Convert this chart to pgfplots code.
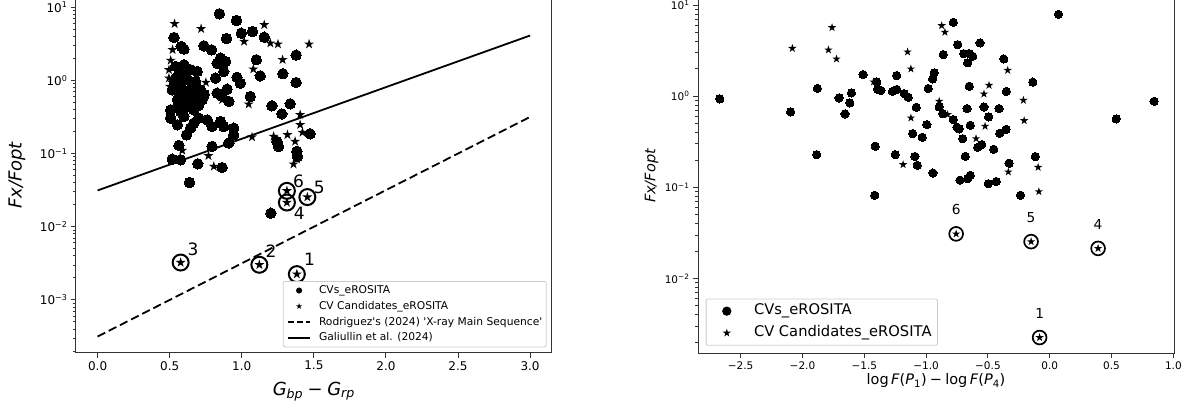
\documentclass[border=0pt]{standalone}
\usepackage{fontspec}
\setmainfont{DejaVu Sans}
\usepackage{pgfplots}
\pgfplotsset{compat=1.18}
\pgfdeclareplotmark{fstar}{%
  \pgfpathmoveto{\pgfpointpolar{90}{\pgfplotmarksize}}%
  \pgfpathlineto{\pgfpointpolar{126}{0.382\pgfplotmarksize}}%
  \pgfpathlineto{\pgfpointpolar{162}{\pgfplotmarksize}}%
  \pgfpathlineto{\pgfpointpolar{198}{0.382\pgfplotmarksize}}%
  \pgfpathlineto{\pgfpointpolar{234}{\pgfplotmarksize}}%
  \pgfpathlineto{\pgfpointpolar{270}{0.382\pgfplotmarksize}}%
  \pgfpathlineto{\pgfpointpolar{306}{\pgfplotmarksize}}%
  \pgfpathlineto{\pgfpointpolar{342}{0.382\pgfplotmarksize}}%
  \pgfpathlineto{\pgfpointpolar{18}{\pgfplotmarksize}}%
  \pgfpathlineto{\pgfpointpolar{54}{0.382\pgfplotmarksize}}%
  \pgfpathclose
  \pgfusepathqfill
}
\pgfplotsset{
  mplstyle/.style={
    scale only axis,
    axis line style={black!80, line width=1pt},
    every tick/.style={black!80, line width=0.9pt},
    major tick length=5pt, minor tick length=3pt,
    tick align=outside, tick pos=left,
    legend cell align=left,
  }
}
\begin{document}
\begin{tikzpicture}
%================ LEFT PANEL =================
\begin{axis}[mplstyle, ymode=log,
  at={(76pt,54.3pt)}, anchor=south west,
  width=475.7pt, height=354.9pt,
  xmin=-0.15, xmax=3.15, ymin=1.9e-4, ymax=13.4,
  xtick={0,0.5,1,1.5,2,2.5,3}, xticklabels={0.0,0.5,1.0,1.5,2.0,2.5,3.0},
  ytick={1e-3,1e-2,1e-1,1,10},
  yticklabels={10\textsuperscript{−3},10\textsuperscript{−2},10\textsuperscript{−1},10\textsuperscript{0},10\textsuperscript{1}},
  minor ytick={2e-4,3e-4,4e-4,5e-4,6e-4,7e-4,8e-4,9e-4,2e-3,3e-3,4e-3,5e-3,6e-3,7e-3,8e-3,9e-3,0.02,0.03,0.04,0.05,0.06,0.07,0.08,0.09,0.2,0.3,0.4,0.5,0.6,0.7,0.8,0.9,2,3,4,5,6,7,8,9},
  tick label style={font=\fontsize{12}{14}\selectfont},
  xlabel={\textit{G}\textsubscript{\textit{bp}}\hspace{0.25em}−\hspace{0.25em}\textit{G}\textsubscript{\textit{rp}}},
  ylabel={\textit{Fx/Fopt}},
  every axis x label/.style={at={(rel axis cs:0.5,0)}, anchor=base, yshift=-42.3pt, font=\fontsize{18}{20}\selectfont},
  every axis y label/.style={at={(rel axis cs:0,0.5)}, anchor=center, xshift=-59pt, rotate=90, font=\fontsize{18}{20}\selectfont},
  legend image code/.code={\path (0pt,0pt) (22pt,0pt); \draw[mark repeat=2,mark phase=2,#1] plot coordinates {(0pt,0pt) (11pt,0pt) (22pt,0pt)};},
  legend style={at={(1,0)}, anchor=south east, xshift=-5pt, yshift=5.4pt,
    font=\fontsize{10.7}{12}\selectfont, draw=black!20, line width=0.8pt, rounded corners=2pt,
    fill=white, inner xsep=4pt, inner ysep=3.5pt, row sep=4.8pt, column sep=8pt,
    nodes={inner sep=0pt, text height=8.5pt, text depth=2.5pt}},
]
\addlegendimage{only marks, mark=*, mark size=2.6pt, black}
\addlegendentry{CVs\_eROSITA}
\addlegendimage{only marks, mark=fstar, mark size=3.2pt, black}
\addlegendentry{CV Candidates\_eROSITA}
\addlegendimage{no marks, black, line width=1.8pt, dash pattern=on 6pt off 3pt}
\addlegendentry{Rodriguez\textquotesingle s (2024) \textquotesingle X-ray Main Sequence\textquotesingle}
\addlegendimage{no marks, black, line width=1.8pt}
\addlegendentry{Galiullin et al. (2024)}

% Rodriguez X-ray main sequence (dashed)
\addplot[forget plot, no marks, black, line width=1.8pt, dash pattern=on 8.5pt off 4pt] coordinates {(0,3.16e-4) (3,0.316)};
% Galiullin et al. (solid)
\addplot[forget plot, no marks, black, line width=1.8pt] coordinates {(0,0.0313) (3,4.09)};

% CVs eROSITA
\addplot[forget plot, only marks, mark=*, mark size=5.25pt, black, mark options={line width=0pt}] coordinates {
(0.845,8.10) (0.963,6.56) (0.997,4.40) (1.075,4.64) (0.530,3.85) (0.894,3.72) (1.156,3.89)
(0.580,2.90) (0.599,2.67) (0.737,2.96) (0.790,2.61) (1.377,2.21) (0.852,2.01) (0.829,1.71)
(0.887,1.81) (1.101,1.91) (1.128,1.15) (1.285,1.23) (1.377,0.934) (0.818,1.07) (0.875,1.32)
(0.967,1.10) (0.990,0.914) (0.829,0.668) (0.898,0.757) (0.910,0.514) (0.864,0.601) (1.059,0.601)
(1.209,0.449) (1.278,0.348) (1.336,0.478) (1.474,0.186) (1.244,0.146) (1.255,0.125) (1.382,0.107)
(1.386,0.0912) (0.864,0.0644) (0.794,0.125) (0.910,0.139) (0.695,0.0724) (0.638,0.0402) (0.944,0.180)
(0.875,0.234) (0.794,0.234) (0.507,0.304) (0.553,0.247) (0.617,0.180) (0.564,0.129) (0.518,0.0837)
(0.576,0.0820) (0.530,0.965) (0.576,0.824) (0.622,1.02) (0.691,1.32) (0.714,0.741) (0.668,0.542)
(0.553,0.542) (0.576,0.375) (0.645,0.601) (0.703,0.304) (0.760,0.288) (0.599,0.321) (0.541,1.55)
(0.599,1.63) (0.564,1.25) (0.645,1.39) (0.679,0.964) (0.518,0.741) (0.622,0.703) (0.691,0.668)
(0.576,0.634) (0.553,0.440) (0.622,0.440) (0.725,0.542) (0.507,0.395) (0.668,0.395) (0.852,0.274)
(0.944,0.222) (0.645,0.222) (0.668,0.260) (1.202,0.0153)
(0.600,1.15) (0.660,0.850) (0.610,0.520) (0.700,0.450) (0.540,1.05) (0.740,0.640)
};
% CV candidates eROSITA
\addplot[forget plot, only marks, mark=fstar, mark size=5.2pt, black] coordinates {
(0.534,5.92) (0.718,5.06) (1.156,5.73) (1.016,3.39) (1.198,3.22) (1.251,3.12) (1.467,3.12)
(1.283,1.91) (1.080,1.42) (0.507,1.87) (0.520,2.61) (0.495,1.07) (0.751,0.934) (1.048,0.472)
(0.864,0.542) (1.405,0.338) (1.405,0.247) (1.421,0.194) (1.071,0.168) (1.221,0.171) (1.317,0.180)
(1.370,0.146) (1.382,0.0837) (1.359,0.0716) (0.769,0.0931) (0.806,0.0666) (0.587,0.110) (0.530,0.703)
(0.502,0.824) (0.495,1.39)
(1.382,0.00225) (1.122,0.00302) (0.576,0.00324) (1.313,0.0214) (1.455,0.0254) (1.313,0.0309)
};
% highlighted candidates
\addplot[forget plot, only marks, mark=o, mark size=8pt, black, mark options={line width=2pt}] coordinates {
(1.382,0.00225) (1.122,0.00302) (0.576,0.00324) (1.313,0.0214) (1.455,0.0254) (1.313,0.0309)
};
\begin{scope}[every node/.style={font=\fontsize{17}{19}\selectfont, inner sep=0pt}]
\node at (axis cs:1.382,0.00225) [xshift=12.6pt, yshift=15pt] {1};
\node at (axis cs:1.122,0.00302) [xshift=11.7pt, yshift=13.3pt] {2};
\node at (axis cs:0.576,0.00324) [xshift=12.3pt, yshift=13.4pt] {3};
\node at (axis cs:1.313,0.0214) [xshift=12.3pt, yshift=-10.6pt] {4};
\node at (axis cs:1.455,0.0254) [xshift=12pt, yshift=10pt] {5};
\node at (axis cs:1.313,0.0309) [xshift=11.6pt, yshift=9.3pt] {6};
\end{scope}
\end{axis}

%================ RIGHT PANEL =================
\begin{axis}[mplstyle, ymode=log,
  at={(698pt,53.7pt)}, anchor=south west,
  width=476pt, height=355pt,
  xmin=-2.845, xmax=1.005, ymin=1.51e-3, ymax=11.9,
  xtick={-2.5,-2,-1.5,-1,-0.5,0,0.5,1}, xticklabels={−2.5,−2.0,−1.5,−1.0,−0.5,0.0,0.5,1.0},
  ytick={1e-2,1e-1,1,10},
  yticklabels={10\textsuperscript{−2},10\textsuperscript{−1},10\textsuperscript{0},10\textsuperscript{1}},
  minor ytick={2e-3,3e-3,4e-3,5e-3,6e-3,7e-3,8e-3,9e-3,0.02,0.03,0.04,0.05,0.06,0.07,0.08,0.09,0.2,0.3,0.4,0.5,0.6,0.7,0.8,0.9,2,3,4,5,6,7,8,9},
  tick label style={font=\fontsize{10.5}{12}\selectfont},
  xlabel={log\hspace{0.17em}\textit{F}(\textit{P}\textsubscript{1})\hspace{0.22em}−\hspace{0.22em}log\hspace{0.17em}\textit{F}(\textit{P}\textsubscript{4})},
  ylabel={\textit{Fx/Fopt}},
  every axis x label/.style={at={(rel axis cs:0.5,0)}, anchor=base, yshift=-31.5pt, font=\fontsize{14.5}{16}\selectfont},
  every axis y label/.style={at={(rel axis cs:0,0.5)}, anchor=center, xshift=-46.3pt, rotate=90, font=\fontsize{14.5}{16}\selectfont},
  legend image code/.code={\path (0pt,0pt) (28.6pt,0pt); \draw[mark repeat=2,mark phase=2,#1] plot coordinates {(0pt,0pt) (14.3pt,0pt) (28.6pt,0pt)};},
  legend style={at={(0,0)}, anchor=south west, xshift=7.7pt, yshift=7.6pt,
    font=\fontsize{14.7}{16}\selectfont, draw=black!20, line width=0.8pt, rounded corners=2pt,
    fill=white, inner xsep=6pt, inner ysep=5pt, row sep=7.4pt, column sep=12.5pt,
    nodes={inner sep=0pt, text height=11pt, text depth=3.5pt}},
]
\addlegendimage{only marks, mark=*, mark size=4.2pt, black}
\addlegendentry{CVs\_eROSITA}
\addlegendimage{only marks, mark=fstar, mark size=4.3pt, black}
\addlegendentry{CV Candidates\_eROSITA}

\addplot[forget plot, only marks, mark=*, mark size=4.15pt, black, mark options={line width=0pt}] coordinates {
(-2.669,0.936) (-2.096,0.674) (-1.879,1.22) (-1.885,0.229) (-1.704,0.960) (-1.617,0.846) (-1.656,0.641)
(-1.604,1.09) (-1.510,1.73) (-1.399,1.44) (-1.393,1.19) (-1.366,1.16) (-1.412,0.283) (-1.415,0.082)
(-1.272,1.13) (-1.237,1.19) (-1.239,1.69) (-1.177,1.07) (-1.145,0.976) (-1.080,0.757) (-0.994,0.489)
(-1.109,0.390) (-1.032,0.355) (-1.250,0.229) (-1.091,0.219) (-1.072,0.175) (-0.945,0.144) (-0.983,1.22)
(-0.947,1.55) (-0.934,1.81) (-0.861,2.87) (-0.894,0.765) (-0.866,0.646) (0.071,7.94) (-0.780,6.49)
(-0.745,3.69) (-0.564,3.86) (-0.696,2.94) (-0.651,2.94) (-0.623,2.75) (-0.664,2.33) (-0.372,2.57)
(-0.651,1.29) (-0.137,1.43) (-0.351,1.13) (-0.669,0.733) (-0.532,0.765) (-0.410,0.733) (-0.494,0.594)
(-0.780,0.555) (-0.750,0.457) (-0.732,0.439) (-0.643,0.481) (-0.704,0.343) (-0.404,0.393) (-0.353,0.434)
(-0.583,0.275) (-0.550,0.295) (-0.453,0.262) (-0.683,0.219) (-0.726,0.120) (-0.664,0.125) (-0.643,0.136)
(-0.497,0.110) (-0.432,0.116) (-0.329,0.184) (-0.116,0.218) (-0.237,0.082) (0.538,0.565) (0.844,0.881)
};
\addplot[forget plot, only marks, mark=fstar, mark size=4.4pt, black] coordinates {
(-2.082,3.36) (-1.761,5.68) (-1.790,3.23) (-1.725,2.57) (-1.150,3.07) (-1.123,2.00) (-0.874,5.97)
(-0.848,5.05) (-1.123,0.579) (-1.186,0.178) (-0.894,0.881) (-0.340,1.93) (-0.491,1.32) (-0.532,1.06)
(-0.213,0.904) (-0.207,0.541) (-0.826,0.630) (-0.523,0.469) (-0.596,0.343) (-0.335,0.148) (-0.094,0.166)
(-0.088,0.0899) (-1.425,1.44)
(-0.082,0.00225) (0.391,0.0214) (-0.151,0.0254) (-0.757,0.0309)
};
\addplot[forget plot, only marks, mark=o, mark size=6.9pt, black, mark options={line width=1.7pt}] coordinates {
(-0.082,0.00225) (0.391,0.0214) (-0.151,0.0254) (-0.757,0.0309)
};
\begin{scope}[every node/.style={font=\fontsize{13.7}{15}\selectfont, inner sep=0pt}]
\node at (axis cs:-0.082,0.00225) [yshift=24.3pt] {1};
\node at (axis cs:0.391,0.0214) [yshift=24.3pt] {4};
\node at (axis cs:-0.151,0.0254) [yshift=24.3pt] {5};
\node at (axis cs:-0.757,0.0309) [yshift=24.3pt] {6};
\end{scope}
\end{axis}
\pgfresetboundingbox
\useasboundingbox (0pt,0pt) rectangle (1192pt,407pt);
\end{tikzpicture}
\end{document}
